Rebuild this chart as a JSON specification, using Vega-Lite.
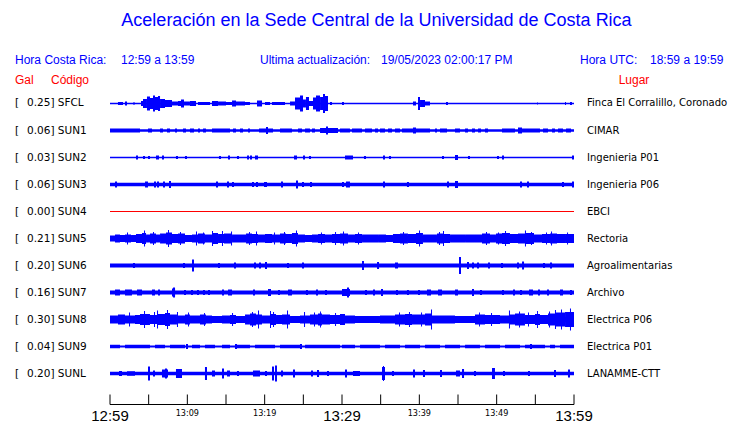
{
  "$schema": "https://vega.github.io/schema/vega-lite/v6.json",
  "width": 464,
  "height": 329,
  "padding": {"left": 110, "right": 166, "top": 76, "bottom": 18},
  "autosize": {"type": "none"},
  "background": "white",
  "config": {"view": {"stroke": null}},
  "datasets": {
    "stations": [
      {"code": "SFCL", "r": 0, "gal": 0.25, "place": "Finca El Corralillo, Coronado", "noise": 1.5},
      {"code": "SUN1", "r": 1, "gal": 0.06, "place": "CIMAR", "noise": 2.5},
      {"code": "SUN2", "r": 2, "gal": 0.03, "place": "Ingenieria P01", "noise": 1.3},
      {"code": "SUN3", "r": 3, "gal": 0.06, "place": "Ingenieria P06", "noise": 3.5},
      {"code": "SUN4", "r": 4, "gal": 0.0, "place": "EBCI", "noise": 1},
      {"code": "SUN5", "r": 5, "gal": 0.21, "place": "Rectoria", "noise": 5},
      {"code": "SUN6", "r": 6, "gal": 0.2, "place": "Agroalimentarias", "noise": 4},
      {"code": "SUN7", "r": 7, "gal": 0.16, "place": "Archivo", "noise": 4},
      {"code": "SUN8", "r": 8, "gal": 0.3, "place": "Electrica P06", "noise": 5.5},
      {"code": "SUN9", "r": 9, "gal": 0.04, "place": "Electrica P01", "noise": 2},
      {"code": "SUNL", "r": 10, "gal": 0.2, "place": "LANAMME-CTT", "noise": 3.5}
    ],
    "ticks": [
      {"t": 0, "lab": "12:59"}, {"t": 5, "lab": ""}, {"t": 10, "lab": "13:09"}, {"t": 15, "lab": ""},
      {"t": 20, "lab": "13:19"}, {"t": 25, "lab": ""}, {"t": 30, "lab": "13:29"}, {"t": 35, "lab": ""},
      {"t": 40, "lab": "13:39"}, {"t": 45, "lab": ""}, {"t": 50, "lab": "13:49"}, {"t": 55, "lab": ""},
      {"t": 60, "lab": "13:59"}
    ],
    "spikes": [
      {"s":"SFCL","t0":1.03,"t1":1.68,"h":3},{"s":"SFCL","t0":1.94,"t1":2.2,"h":4},{"s":"SFCL","t0":2.97,"t1":3.23,"h":2},
      {"s":"SFCL","t0":4.01,"t1":4.27,"h":5},{"s":"SFCL","t0":4.27,"t1":4.78,"h":9},{"s":"SFCL","t0":4.78,"t1":5.17,"h":14},
      {"s":"SFCL","t0":5.17,"t1":5.56,"h":11},{"s":"SFCL","t0":5.56,"t1":5.82,"h":16},{"s":"SFCL","t0":5.82,"t1":6.21,"h":13},
      {"s":"SFCL","t0":6.21,"t1":6.47,"h":15},{"s":"SFCL","t0":6.47,"t1":7.11,"h":9},{"s":"SFCL","t0":7.11,"t1":8.02,"h":7},
      {"s":"SFCL","t0":8.02,"t1":8.79,"h":4},{"s":"SFCL","t0":8.79,"t1":9.18,"h":5},{"s":"SFCL","t0":9.18,"t1":9.57,"h":8},
      {"s":"SFCL","t0":9.57,"t1":10.34,"h":4},{"s":"SFCL","t0":10.34,"t1":11.12,"h":5},{"s":"SFCL","t0":11.38,"t1":12.93,"h":3},
      {"s":"SFCL","t0":13.19,"t1":13.97,"h":5},{"s":"SFCL","t0":13.97,"t1":15.0,"h":4},{"s":"SFCL","t0":15.0,"t1":15.78,"h":3},
      {"s":"SFCL","t0":15.78,"t1":16.29,"h":6},{"s":"SFCL","t0":16.29,"t1":17.46,"h":4},{"s":"SFCL","t0":17.46,"t1":18.1,"h":3},
      {"s":"SFCL","t0":19.01,"t1":19.66,"h":6},{"s":"SFCL","t0":20.04,"t1":20.69,"h":3},{"s":"SFCL","t0":20.95,"t1":22.63,"h":3},
      {"s":"SFCL","t0":23.28,"t1":23.92,"h":4},{"s":"SFCL","t0":23.92,"t1":24.57,"h":12},{"s":"SFCL","t0":24.57,"t1":24.96,"h":16},
      {"s":"SFCL","t0":24.96,"t1":25.34,"h":8},{"s":"SFCL","t0":25.34,"t1":25.73,"h":13},{"s":"SFCL","t0":25.73,"t1":26.25,"h":5},
      {"s":"SFCL","t0":26.25,"t1":26.64,"h":12},{"s":"SFCL","t0":26.64,"t1":27.16,"h":16},{"s":"SFCL","t0":27.16,"t1":27.54,"h":13},
      {"s":"SFCL","t0":27.54,"t1":27.8,"h":19},{"s":"SFCL","t0":27.8,"t1":28.19,"h":15},{"s":"SFCL","t0":28.45,"t1":28.71,"h":3},
      {"s":"SFCL","t0":30.0,"t1":30.26,"h":3},{"s":"SFCL","t0":39.18,"t1":39.57,"h":4},{"s":"SFCL","t0":39.83,"t1":40.09,"h":13},
      {"s":"SFCL","t0":40.09,"t1":40.73,"h":7},{"s":"SFCL","t0":40.73,"t1":41.38,"h":4},{"s":"SFCL","t0":43.45,"t1":43.71,"h":3},
      {"s":"SFCL","t0":55.22,"t1":55.34,"h":2},{"s":"SFCL","t0":58.84,"t1":58.97,"h":3},{"s":"SFCL","t0":59.48,"t1":59.74,"h":3},

      {"s":"SUN1","t0":0,"t1":3.88,"h":4},{"s":"SUN1","t0":4.91,"t1":5.43,"h":4},{"s":"SUN1","t0":6.47,"t1":6.85,"h":4},
      {"s":"SUN1","t0":7.37,"t1":7.76,"h":4},{"s":"SUN1","t0":8.41,"t1":8.66,"h":4},{"s":"SUN1","t0":9.44,"t1":9.83,"h":4},
      {"s":"SUN1","t0":10.34,"t1":10.86,"h":4},{"s":"SUN1","t0":11.38,"t1":11.64,"h":4},{"s":"SUN1","t0":12.03,"t1":12.41,"h":4},
      {"s":"SUN1","t0":13.19,"t1":15.52,"h":4},{"s":"SUN1","t0":15.9,"t1":16.29,"h":4},{"s":"SUN1","t0":16.81,"t1":17.2,"h":4},
      {"s":"SUN1","t0":17.85,"t1":18.1,"h":4},{"s":"SUN1","t0":19.27,"t1":21.08,"h":4},{"s":"SUN1","t0":20.17,"t1":20.43,"h":7},
      {"s":"SUN1","t0":21.98,"t1":23.53,"h":4},{"s":"SUN1","t0":24.31,"t1":24.83,"h":4},{"s":"SUN1","t0":25.22,"t1":25.86,"h":4},
      {"s":"SUN1","t0":26.12,"t1":26.51,"h":4},{"s":"SUN1","t0":27.16,"t1":29.48,"h":5},{"s":"SUN1","t0":27.93,"t1":28.19,"h":8},
      {"s":"SUN1","t0":29.74,"t1":31.03,"h":4},{"s":"SUN1","t0":31.29,"t1":32.59,"h":4},{"s":"SUN1","t0":32.97,"t1":33.88,"h":4},
      {"s":"SUN1","t0":34.27,"t1":34.66,"h":4},{"s":"SUN1","t0":34.91,"t1":35.56,"h":4},{"s":"SUN1","t0":35.95,"t1":36.47,"h":4},
      {"s":"SUN1","t0":36.85,"t1":37.5,"h":4},{"s":"SUN1","t0":37.76,"t1":41.38,"h":4},{"s":"SUN1","t0":39.18,"t1":39.57,"h":6},
      {"s":"SUN1","t0":42.03,"t1":42.28,"h":4},{"s":"SUN1","t0":42.67,"t1":43.58,"h":4},{"s":"SUN1","t0":44.61,"t1":45.26,"h":4},
      {"s":"SUN1","t0":45.91,"t1":46.29,"h":4},{"s":"SUN1","t0":46.81,"t1":47.2,"h":4},{"s":"SUN1","t0":47.59,"t1":47.97,"h":4},
      {"s":"SUN1","t0":48.49,"t1":48.88,"h":4},{"s":"SUN1","t0":50.69,"t1":52.37,"h":4},{"s":"SUN1","t0":52.76,"t1":53.28,"h":6},
      {"s":"SUN1","t0":53.28,"t1":55.6,"h":4},{"s":"SUN1","t0":55.99,"t1":56.64,"h":4},{"s":"SUN1","t0":57.16,"t1":57.54,"h":4},
      {"s":"SUN1","t0":57.93,"t1":58.58,"h":4},{"s":"SUN1","t0":58.97,"t1":59.61,"h":4},

      {"s":"SUN2","t0":3.36,"t1":3.62,"h":4},{"s":"SUN2","t0":4.27,"t1":4.53,"h":3},{"s":"SUN2","t0":4.91,"t1":5.17,"h":3},
      {"s":"SUN2","t0":5.95,"t1":6.34,"h":4},{"s":"SUN2","t0":6.72,"t1":6.98,"h":4},{"s":"SUN2","t0":8.53,"t1":8.79,"h":3},
      {"s":"SUN2","t0":9.7,"t1":9.96,"h":3},{"s":"SUN2","t0":14.09,"t1":14.35,"h":3},{"s":"SUN2","t0":15.26,"t1":15.52,"h":4},
      {"s":"SUN2","t0":16.42,"t1":16.68,"h":3},{"s":"SUN2","t0":17.72,"t1":17.98,"h":4},{"s":"SUN2","t0":18.1,"t1":18.36,"h":4},
      {"s":"SUN2","t0":18.75,"t1":19.14,"h":4},{"s":"SUN2","t0":23.79,"t1":24.18,"h":4},{"s":"SUN2","t0":24.96,"t1":25.22,"h":4},
      {"s":"SUN2","t0":25.73,"t1":25.99,"h":3},{"s":"SUN2","t0":30.39,"t1":31.42,"h":4},{"s":"SUN2","t0":32.84,"t1":33.1,"h":3},
      {"s":"SUN2","t0":35.3,"t1":35.56,"h":4},{"s":"SUN2","t0":36.08,"t1":36.34,"h":3},{"s":"SUN2","t0":42.93,"t1":43.19,"h":3},
      {"s":"SUN2","t0":44.61,"t1":45.0,"h":5},{"s":"SUN2","t0":46.29,"t1":46.55,"h":3},{"s":"SUN2","t0":50.04,"t1":50.3,"h":3},
      {"s":"SUN2","t0":50.69,"t1":50.95,"h":4},{"s":"SUN2","t0":59.74,"t1":60.0,"h":4},

      {"s":"SUN3","t0":0.65,"t1":0.91,"h":6},{"s":"SUN3","t0":4.53,"t1":4.91,"h":6},{"s":"SUN3","t0":5.69,"t1":5.95,"h":6},
      {"s":"SUN3","t0":6.08,"t1":6.34,"h":6},{"s":"SUN3","t0":6.85,"t1":7.11,"h":6},{"s":"SUN3","t0":7.63,"t1":7.89,"h":7},
      {"s":"SUN3","t0":13.71,"t1":13.97,"h":6},{"s":"SUN3","t0":15.13,"t1":15.39,"h":6},{"s":"SUN3","t0":15.78,"t1":16.03,"h":5},
      {"s":"SUN3","t0":18.36,"t1":18.62,"h":5},{"s":"SUN3","t0":18.88,"t1":19.14,"h":5},{"s":"SUN3","t0":19.91,"t1":20.3,"h":5},
      {"s":"SUN3","t0":22.11,"t1":22.37,"h":6},{"s":"SUN3","t0":24.05,"t1":24.31,"h":8},{"s":"SUN3","t0":24.83,"t1":25.09,"h":5},
      {"s":"SUN3","t0":25.86,"t1":26.12,"h":5},{"s":"SUN3","t0":30.0,"t1":30.26,"h":5},{"s":"SUN3","t0":30.52,"t1":31.03,"h":6},
      {"s":"SUN3","t0":35.3,"t1":35.56,"h":6},{"s":"SUN3","t0":38.4,"t1":38.66,"h":5},{"s":"SUN3","t0":43.58,"t1":43.84,"h":6},
      {"s":"SUN3","t0":44.61,"t1":45.0,"h":7},{"s":"SUN3","t0":53.02,"t1":53.28,"h":6},{"s":"SUN3","t0":53.92,"t1":54.18,"h":6},
      {"s":"SUN3","t0":58.45,"t1":58.71,"h":5},{"s":"SUN3","t0":59.74,"t1":60.0,"h":6},

      {"s":"SUN5","t0":0,"t1":0.65,"h":6},{"s":"SUN5","t0":0.65,"t1":1.29,"h":8},{"s":"SUN5","t0":1.29,"t1":1.94,"h":7},
      {"s":"SUN5","t0":1.94,"t1":2.72,"h":8},{"s":"SUN5","t0":2.72,"t1":3.36,"h":7},{"s":"SUN5","t0":3.36,"t1":4.14,"h":9},
      {"s":"SUN5","t0":4.14,"t1":4.66,"h":11},{"s":"SUN5","t0":4.66,"t1":5.17,"h":8},{"s":"SUN5","t0":5.17,"t1":5.95,"h":10},
      {"s":"SUN5","t0":5.95,"t1":6.47,"h":8},{"s":"SUN5","t0":6.47,"t1":7.24,"h":10},{"s":"SUN5","t0":7.24,"t1":8.02,"h":12},
      {"s":"SUN5","t0":8.02,"t1":8.79,"h":9},{"s":"SUN5","t0":8.79,"t1":9.7,"h":10},{"s":"SUN5","t0":9.7,"t1":10.6,"h":7},
      {"s":"SUN5","t0":10.6,"t1":11.38,"h":8},{"s":"SUN5","t0":11.38,"t1":12.28,"h":10},{"s":"SUN5","t0":12.28,"t1":13.19,"h":8},
      {"s":"SUN5","t0":13.19,"t1":13.97,"h":11},{"s":"SUN5","t0":13.97,"t1":14.74,"h":9},{"s":"SUN5","t0":14.74,"t1":15.78,"h":10},
      {"s":"SUN5","t0":15.78,"t1":16.81,"h":8},{"s":"SUN5","t0":16.81,"t1":17.59,"h":8},{"s":"SUN5","t0":17.59,"t1":18.36,"h":10},
      {"s":"SUN5","t0":18.36,"t1":19.14,"h":9},{"s":"SUN5","t0":19.14,"t1":20.04,"h":8},{"s":"SUN5","t0":20.04,"t1":20.95,"h":9},
      {"s":"SUN5","t0":20.95,"t1":21.98,"h":8},{"s":"SUN5","t0":21.98,"t1":22.76,"h":10},{"s":"SUN5","t0":22.76,"t1":23.53,"h":9},
      {"s":"SUN5","t0":23.53,"t1":24.31,"h":11},{"s":"SUN5","t0":24.31,"t1":25.22,"h":8},{"s":"SUN5","t0":25.22,"t1":26.12,"h":7},
      {"s":"SUN5","t0":26.12,"t1":26.9,"h":8},{"s":"SUN5","t0":26.9,"t1":27.8,"h":9},{"s":"SUN5","t0":27.8,"t1":28.71,"h":8},
      {"s":"SUN5","t0":28.71,"t1":29.74,"h":9},{"s":"SUN5","t0":29.74,"t1":30.78,"h":10},{"s":"SUN5","t0":30.78,"t1":31.68,"h":8},
      {"s":"SUN5","t0":31.68,"t1":32.59,"h":9},{"s":"SUN5","t0":32.59,"t1":33.62,"h":8},{"s":"SUN5","t0":33.62,"t1":34.66,"h":8},
      {"s":"SUN5","t0":34.66,"t1":35.69,"h":8},{"s":"SUN5","t0":35.69,"t1":36.59,"h":7},{"s":"SUN5","t0":36.59,"t1":37.5,"h":9},
      {"s":"SUN5","t0":37.5,"t1":38.53,"h":10},{"s":"SUN5","t0":38.53,"t1":39.57,"h":9},{"s":"SUN5","t0":39.57,"t1":40.47,"h":11},
      {"s":"SUN5","t0":40.47,"t1":41.38,"h":8},{"s":"SUN5","t0":41.38,"t1":42.28,"h":8},{"s":"SUN5","t0":42.28,"t1":43.06,"h":10},
      {"s":"SUN5","t0":43.06,"t1":43.97,"h":9},{"s":"SUN5","t0":43.97,"t1":45.0,"h":8},{"s":"SUN5","t0":45.0,"t1":46.03,"h":8},
      {"s":"SUN5","t0":46.03,"t1":47.07,"h":8},{"s":"SUN5","t0":47.07,"t1":48.1,"h":8},{"s":"SUN5","t0":48.1,"t1":49.14,"h":10},
      {"s":"SUN5","t0":49.14,"t1":49.91,"h":8},{"s":"SUN5","t0":49.91,"t1":50.69,"h":10},{"s":"SUN5","t0":50.69,"t1":51.72,"h":11},
      {"s":"SUN5","t0":51.72,"t1":52.76,"h":9},{"s":"SUN5","t0":52.76,"t1":53.79,"h":10},{"s":"SUN5","t0":53.79,"t1":54.83,"h":11},
      {"s":"SUN5","t0":54.83,"t1":55.86,"h":8},{"s":"SUN5","t0":55.86,"t1":56.9,"h":9},{"s":"SUN5","t0":56.9,"t1":57.8,"h":10},
      {"s":"SUN5","t0":57.8,"t1":58.84,"h":9},{"s":"SUN5","t0":58.84,"t1":60.0,"h":9},
      {"s":"SUN5","t0":4.4,"t1":4.53,"h":16},{"s":"SUN5","t0":7.5,"t1":7.63,"h":17},{"s":"SUN5","t0":11.12,"t1":11.25,"h":14},
      {"s":"SUN5","t0":13.19,"t1":13.32,"h":15},{"s":"SUN5","t0":14.48,"t1":14.61,"h":15},{"s":"SUN5","t0":15.65,"t1":15.78,"h":14},
      {"s":"SUN5","t0":18.88,"t1":19.01,"h":14},{"s":"SUN5","t0":24.05,"t1":24.18,"h":16},{"s":"SUN5","t0":30.13,"t1":30.26,"h":14},
      {"s":"SUN5","t0":39.96,"t1":40.09,"h":16},{"s":"SUN5","t0":43.06,"t1":43.19,"h":15},{"s":"SUN5","t0":51.08,"t1":51.21,"h":15},
      {"s":"SUN5","t0":53.66,"t1":53.79,"h":16},{"s":"SUN5","t0":57.03,"t1":57.16,"h":14},
      {"s":"SUN5","t0":2.2,"t1":2.33,"h":12},{"s":"SUN5","t0":5.56,"t1":5.69,"h":13},{"s":"SUN5","t0":9.05,"t1":9.18,"h":13},
      {"s":"SUN5","t0":12.03,"t1":12.16,"h":12},{"s":"SUN5","t0":17.98,"t1":18.1,"h":13},{"s":"SUN5","t0":21.21,"t1":21.34,"h":12},
      {"s":"SUN5","t0":22.5,"t1":22.63,"h":13},{"s":"SUN5","t0":27.28,"t1":27.41,"h":12},{"s":"SUN5","t0":29.1,"t1":29.23,"h":13},
      {"s":"SUN5","t0":32.07,"t1":32.2,"h":12},{"s":"SUN5","t0":37.89,"t1":38.02,"h":13},{"s":"SUN5","t0":42.54,"t1":42.67,"h":13},
      {"s":"SUN5","t0":48.62,"t1":48.75,"h":13},{"s":"SUN5","t0":50.17,"t1":50.3,"h":12},{"s":"SUN5","t0":54.44,"t1":54.57,"h":13},
      {"s":"SUN5","t0":56.38,"t1":56.51,"h":12},{"s":"SUN5","t0":59.1,"t1":59.23,"h":12},

      {"s":"SUN6","t0":2.97,"t1":3.23,"h":5},{"s":"SUN6","t0":9.44,"t1":9.7,"h":5},{"s":"SUN6","t0":10.6,"t1":10.86,"h":12},
      {"s":"SUN6","t0":13.97,"t1":14.22,"h":5},{"s":"SUN6","t0":16.03,"t1":16.29,"h":6},{"s":"SUN6","t0":18.62,"t1":18.88,"h":6},
      {"s":"SUN6","t0":19.27,"t1":19.53,"h":6},{"s":"SUN6","t0":20.04,"t1":20.3,"h":7},{"s":"SUN6","t0":22.89,"t1":23.15,"h":5},
      {"s":"SUN6","t0":24.83,"t1":25.09,"h":6},{"s":"SUN6","t0":32.59,"t1":32.84,"h":9},{"s":"SUN6","t0":34.53,"t1":34.79,"h":7},
      {"s":"SUN6","t0":36.85,"t1":37.24,"h":6},{"s":"SUN6","t0":45.13,"t1":45.39,"h":17},{"s":"SUN6","t0":46.16,"t1":46.42,"h":7},
      {"s":"SUN6","t0":46.81,"t1":47.07,"h":6},{"s":"SUN6","t0":47.46,"t1":47.72,"h":6},{"s":"SUN6","t0":48.88,"t1":49.14,"h":6},
      {"s":"SUN6","t0":50.56,"t1":50.82,"h":5},{"s":"SUN6","t0":52.63,"t1":52.89,"h":6},{"s":"SUN6","t0":53.28,"t1":53.54,"h":8},
      {"s":"SUN6","t0":55.99,"t1":56.25,"h":5},{"s":"SUN6","t0":56.9,"t1":57.16,"h":6},

      {"s":"SUN7","t0":0.65,"t1":1.29,"h":6},{"s":"SUN7","t0":1.94,"t1":2.84,"h":6},{"s":"SUN7","t0":3.49,"t1":4.14,"h":6},
      {"s":"SUN7","t0":5.43,"t1":5.82,"h":6},{"s":"SUN7","t0":6.21,"t1":6.47,"h":6},{"s":"SUN7","t0":8.02,"t1":8.41,"h":8},
      {"s":"SUN7","t0":8.15,"t1":8.41,"h":10},{"s":"SUN7","t0":9.57,"t1":9.83,"h":5},{"s":"SUN7","t0":10.47,"t1":10.73,"h":5},
      {"s":"SUN7","t0":11.25,"t1":11.51,"h":5},{"s":"SUN7","t0":12.03,"t1":12.28,"h":5},{"s":"SUN7","t0":12.67,"t1":12.93,"h":5},
      {"s":"SUN7","t0":14.48,"t1":14.74,"h":6},{"s":"SUN7","t0":15.26,"t1":15.78,"h":6},{"s":"SUN7","t0":18.49,"t1":18.75,"h":6},
      {"s":"SUN7","t0":20.43,"t1":20.82,"h":7},{"s":"SUN7","t0":21.72,"t1":21.98,"h":5},{"s":"SUN7","t0":23.02,"t1":23.53,"h":6},
      {"s":"SUN7","t0":25.34,"t1":25.6,"h":5},{"s":"SUN7","t0":26.64,"t1":26.9,"h":6},{"s":"SUN7","t0":27.8,"t1":28.06,"h":5},
      {"s":"SUN7","t0":30.0,"t1":31.03,"h":7},{"s":"SUN7","t0":30.65,"t1":30.91,"h":10},{"s":"SUN7","t0":32.97,"t1":33.23,"h":5},
      {"s":"SUN7","t0":34.01,"t1":34.27,"h":6},{"s":"SUN7","t0":35.04,"t1":35.3,"h":7},{"s":"SUN7","t0":36.98,"t1":37.24,"h":5},
      {"s":"SUN7","t0":38.4,"t1":38.66,"h":5},{"s":"SUN7","t0":39.83,"t1":40.09,"h":5},{"s":"SUN7","t0":40.99,"t1":41.51,"h":6},
      {"s":"SUN7","t0":42.41,"t1":42.93,"h":6},{"s":"SUN7","t0":44.61,"t1":45.0,"h":6},{"s":"SUN7","t0":46.81,"t1":47.07,"h":7},
      {"s":"SUN7","t0":47.84,"t1":48.1,"h":5},{"s":"SUN7","t0":50.69,"t1":50.95,"h":5},{"s":"SUN7","t0":52.11,"t1":52.37,"h":6},
      {"s":"SUN7","t0":53.02,"t1":53.28,"h":5},{"s":"SUN7","t0":54.18,"t1":54.7,"h":6},{"s":"SUN7","t0":55.34,"t1":55.6,"h":6},
      {"s":"SUN7","t0":56.51,"t1":56.77,"h":6},{"s":"SUN7","t0":58.19,"t1":58.58,"h":6},{"s":"SUN7","t0":59.48,"t1":59.74,"h":5},

      {"s":"SUN8","t0":0,"t1":1.03,"h":8},{"s":"SUN8","t0":1.03,"t1":1.94,"h":10},{"s":"SUN8","t0":1.94,"t1":3.23,"h":8},
      {"s":"SUN8","t0":3.23,"t1":3.88,"h":9},{"s":"SUN8","t0":3.88,"t1":5.17,"h":11},{"s":"SUN8","t0":5.17,"t1":6.21,"h":9},
      {"s":"SUN8","t0":6.21,"t1":7.11,"h":11},{"s":"SUN8","t0":7.11,"t1":7.76,"h":13},{"s":"SUN8","t0":7.76,"t1":8.66,"h":10},
      {"s":"SUN8","t0":8.66,"t1":9.7,"h":8},{"s":"SUN8","t0":9.7,"t1":10.34,"h":10},{"s":"SUN8","t0":10.34,"t1":11.64,"h":8},
      {"s":"SUN8","t0":11.64,"t1":12.41,"h":10},{"s":"SUN8","t0":12.41,"t1":13.19,"h":8},{"s":"SUN8","t0":13.19,"t1":14.48,"h":7},
      {"s":"SUN8","t0":14.48,"t1":15.52,"h":8},{"s":"SUN8","t0":15.52,"t1":16.29,"h":9},{"s":"SUN8","t0":16.29,"t1":17.46,"h":7},
      {"s":"SUN8","t0":17.46,"t1":18.1,"h":10},{"s":"SUN8","t0":18.1,"t1":18.88,"h":12},{"s":"SUN8","t0":18.88,"t1":19.66,"h":10},
      {"s":"SUN8","t0":19.66,"t1":20.69,"h":8},{"s":"SUN8","t0":20.69,"t1":21.47,"h":11},{"s":"SUN8","t0":21.47,"t1":22.24,"h":9},
      {"s":"SUN8","t0":22.24,"t1":23.28,"h":10},{"s":"SUN8","t0":23.28,"t1":24.57,"h":7},{"s":"SUN8","t0":24.57,"t1":25.22,"h":8},
      {"s":"SUN8","t0":25.22,"t1":25.86,"h":8},{"s":"SUN8","t0":25.86,"t1":26.9,"h":10},{"s":"SUN8","t0":26.9,"t1":27.41,"h":12},
      {"s":"SUN8","t0":27.41,"t1":28.45,"h":10},{"s":"SUN8","t0":28.45,"t1":29.74,"h":9},{"s":"SUN8","t0":29.74,"t1":30.39,"h":11},
      {"s":"SUN8","t0":30.39,"t1":31.68,"h":8},{"s":"SUN8","t0":31.68,"t1":33.62,"h":7},{"s":"SUN8","t0":33.62,"t1":34.91,"h":7},
      {"s":"SUN8","t0":34.91,"t1":36.85,"h":8},{"s":"SUN8","t0":36.85,"t1":38.15,"h":10},{"s":"SUN8","t0":38.15,"t1":39.05,"h":11},
      {"s":"SUN8","t0":39.05,"t1":40.73,"h":10},{"s":"SUN8","t0":40.73,"t1":41.64,"h":12},{"s":"SUN8","t0":41.64,"t1":42.67,"h":8},
      {"s":"SUN8","t0":42.67,"t1":44.61,"h":8},{"s":"SUN8","t0":44.61,"t1":47.2,"h":7},{"s":"SUN8","t0":47.2,"t1":48.49,"h":10},
      {"s":"SUN8","t0":48.49,"t1":50.43,"h":9},{"s":"SUN8","t0":50.43,"t1":51.72,"h":8},{"s":"SUN8","t0":51.72,"t1":52.37,"h":10},
      {"s":"SUN8","t0":52.37,"t1":53.66,"h":12},{"s":"SUN8","t0":53.66,"t1":54.96,"h":9},{"s":"SUN8","t0":54.96,"t1":55.6,"h":11},
      {"s":"SUN8","t0":55.6,"t1":56.64,"h":9},{"s":"SUN8","t0":56.64,"t1":57.54,"h":12},{"s":"SUN8","t0":57.54,"t1":58.84,"h":14},
      {"s":"SUN8","t0":58.84,"t1":60.0,"h":15},
      {"s":"SUN8","t0":4.4,"t1":4.53,"h":17},{"s":"SUN8","t0":6.08,"t1":6.21,"h":18},{"s":"SUN8","t0":7.37,"t1":7.5,"h":19},
      {"s":"SUN8","t0":19.14,"t1":19.27,"h":18},{"s":"SUN8","t0":20.69,"t1":20.82,"h":17},{"s":"SUN8","t0":22.89,"t1":23.02,"h":18},
      {"s":"SUN8","t0":25.09,"t1":25.22,"h":15},{"s":"SUN8","t0":41.51,"t1":41.64,"h":20},{"s":"SUN8","t0":51.59,"t1":51.72,"h":18},
      {"s":"SUN8","t0":55.22,"t1":55.34,"h":17},{"s":"SUN8","t0":56.77,"t1":56.9,"h":16},{"s":"SUN8","t0":57.54,"t1":57.67,"h":19},
      {"s":"SUN8","t0":58.32,"t1":58.45,"h":20},{"s":"SUN8","t0":59.48,"t1":59.61,"h":22},
      {"s":"SUN8","t0":2.46,"t1":2.59,"h":14},{"s":"SUN8","t0":5.69,"t1":5.82,"h":15},{"s":"SUN8","t0":8.66,"t1":8.79,"h":15},
      {"s":"SUN8","t0":10.09,"t1":10.22,"h":14},{"s":"SUN8","t0":12.16,"t1":12.28,"h":13},{"s":"SUN8","t0":15.78,"t1":15.91,"h":13},
      {"s":"SUN8","t0":18.36,"t1":18.49,"h":15},{"s":"SUN8","t0":21.08,"t1":21.21,"h":15},{"s":"SUN8","t0":26.38,"t1":26.51,"h":14},
      {"s":"SUN8","t0":27.16,"t1":27.28,"h":16},{"s":"SUN8","t0":29.1,"t1":29.23,"h":13},{"s":"SUN8","t0":37.37,"t1":37.5,"h":14},
      {"s":"SUN8","t0":38.66,"t1":38.79,"h":15},{"s":"SUN8","t0":40.22,"t1":40.35,"h":14},{"s":"SUN8","t0":47.72,"t1":47.84,"h":14},
      {"s":"SUN8","t0":49.27,"t1":49.4,"h":13},{"s":"SUN8","t0":52.89,"t1":53.02,"h":16},{"s":"SUN8","t0":54.05,"t1":54.18,"h":14},

      {"s":"SUN9","t0":0,"t1":1.29,"h":3.5},{"s":"SUN9","t0":1.94,"t1":5.17,"h":3.5},{"s":"SUN9","t0":5.82,"t1":7.11,"h":3.5},
      {"s":"SUN9","t0":7.76,"t1":9.7,"h":3.5},{"s":"SUN9","t0":10.6,"t1":11.64,"h":3.5},{"s":"SUN9","t0":12.28,"t1":13.58,"h":3.5},
      {"s":"SUN9","t0":14.48,"t1":15.52,"h":3.5},{"s":"SUN9","t0":16.16,"t1":18.1,"h":3.5},{"s":"SUN9","t0":18.75,"t1":21.34,"h":3.5},
      {"s":"SUN9","t0":21.98,"t1":24.57,"h":3.5},{"s":"SUN9","t0":25.22,"t1":29.74,"h":3.5},{"s":"SUN9","t0":30.0,"t1":31.68,"h":3.5},
      {"s":"SUN9","t0":32.33,"t1":34.91,"h":3.5},{"s":"SUN9","t0":35.56,"t1":37.5,"h":3.5},{"s":"SUN9","t0":38.15,"t1":40.09,"h":3.5},
      {"s":"SUN9","t0":40.73,"t1":42.67,"h":3.5},{"s":"SUN9","t0":43.32,"t1":45.26,"h":3.5},{"s":"SUN9","t0":45.91,"t1":47.84,"h":3.5},
      {"s":"SUN9","t0":48.49,"t1":50.43,"h":3.5},{"s":"SUN9","t0":51.08,"t1":53.02,"h":3.5},{"s":"SUN9","t0":53.66,"t1":56.25,"h":3.5},
      {"s":"SUN9","t0":56.9,"t1":57.54,"h":3.5},{"s":"SUN9","t0":58.19,"t1":60.0,"h":3.5},
      {"s":"SUN9","t0":9.83,"t1":10.09,"h":5},{"s":"SUN9","t0":16.16,"t1":16.42,"h":5},{"s":"SUN9","t0":24.57,"t1":24.83,"h":5},
      {"s":"SUN9","t0":54.31,"t1":54.57,"h":5},

      {"s":"SUNL","t0":1.16,"t1":1.55,"h":5},{"s":"SUNL","t0":2.2,"t1":3.23,"h":4.5},{"s":"SUNL","t0":4.91,"t1":5.17,"h":14},
      {"s":"SUNL","t0":5.56,"t1":5.82,"h":6},{"s":"SUNL","t0":6.72,"t1":7.5,"h":8},{"s":"SUNL","t0":7.11,"t1":7.37,"h":10},
      {"s":"SUNL","t0":8.53,"t1":9.31,"h":9},{"s":"SUNL","t0":12.28,"t1":12.54,"h":13},{"s":"SUNL","t0":13.19,"t1":13.58,"h":6},
      {"s":"SUNL","t0":14.48,"t1":14.74,"h":10},{"s":"SUNL","t0":15.13,"t1":15.52,"h":6},{"s":"SUNL","t0":16.42,"t1":16.68,"h":5},
      {"s":"SUNL","t0":18.49,"t1":19.4,"h":6},{"s":"SUNL","t0":20.04,"t1":20.3,"h":5},{"s":"SUNL","t0":20.95,"t1":21.21,"h":14},
      {"s":"SUNL","t0":21.34,"t1":21.59,"h":16},{"s":"SUNL","t0":22.11,"t1":22.37,"h":6},{"s":"SUNL","t0":23.66,"t1":23.92,"h":8},
      {"s":"SUNL","t0":25.99,"t1":26.25,"h":6},{"s":"SUNL","t0":26.77,"t1":27.03,"h":7},{"s":"SUNL","t0":28.06,"t1":28.32,"h":5},
      {"s":"SUNL","t0":30.39,"t1":30.65,"h":8},{"s":"SUNL","t0":31.42,"t1":32.33,"h":5},{"s":"SUNL","t0":35.17,"t1":35.56,"h":13},
      {"s":"SUNL","t0":35.3,"t1":35.43,"h":15},{"s":"SUNL","t0":36.47,"t1":36.72,"h":5},{"s":"SUNL","t0":39.18,"t1":39.44,"h":8},
      {"s":"SUNL","t0":40.47,"t1":40.73,"h":7},{"s":"SUNL","t0":42.67,"t1":42.93,"h":7},{"s":"SUNL","t0":44.74,"t1":45.26,"h":6},
      {"s":"SUNL","t0":45.52,"t1":45.78,"h":9},{"s":"SUNL","t0":47.07,"t1":47.33,"h":5},{"s":"SUNL","t0":49.4,"t1":49.78,"h":11},
      {"s":"SUNL","t0":50.82,"t1":51.08,"h":5},{"s":"SUNL","t0":54.05,"t1":54.31,"h":5},{"s":"SUNL","t0":57.41,"t1":57.67,"h":7},
      {"s":"SUNL","t0":59.22,"t1":59.48,"h":8}
    ]
  },
  "layer": [
    {
      "data": {"name": "stations"},
      "mark": {"type": "rule"},
      "encoding": {
        "x": {"datum": 0, "type": "quantitative", "scale": {"domain": [0, 60], "nice": false, "zero": false, "padding": 0}, "axis": null},
        "x2": {"datum": 60},
        "y": {"field": "r", "type": "quantitative", "scale": {"domain": [-1.0185, 11.1665], "reverse": true, "nice": false, "zero": false, "padding": 0}, "axis": null},
        "strokeWidth": {"field": "noise", "type": "quantitative", "scale": {"domain": [0, 27], "range": [0, 27]}, "legend": null},
        "color": {"condition": {"test": "datum.code == 'SUN4'", "value": "#ff0000"}, "value": "#0000ff"}
      }
    },
    {
      "data": {"name": "spikes"},
      "transform": [{"lookup": "s", "from": {"data": {"name": "stations"}, "key": "code", "fields": ["r"]}}],
      "mark": {"type": "bar", "orient": "horizontal", "color": "#0000ff"},
      "encoding": {
        "x": {"field": "t0", "type": "quantitative", "axis": null},
        "x2": {"field": "t1"},
        "y": {"field": "r", "type": "quantitative", "axis": null},
        "size": {"field": "h", "type": "quantitative", "scale": {"domain": [0, 27], "range": [0, 27]}, "legend": null}
      }
    },
    {
      "data": {"values": [{}]},
      "mark": {"type": "rule", "color": "black", "strokeWidth": 1},
      "encoding": {
        "x": {"datum": 0, "type": "quantitative", "axis": null},
        "x2": {"datum": 60},
        "y": {"datum": 11.148, "type": "quantitative", "axis": null}
      }
    },
    {
      "data": {"name": "ticks"},
      "mark": {"type": "rule", "color": "black", "strokeWidth": 1},
      "encoding": {
        "x": {"field": "t", "type": "quantitative", "axis": null},
        "y": {"datum": 11.148, "type": "quantitative", "axis": null},
        "y2": {"datum": 10.778}
      }
    },
    {
      "data": {"name": "ticks"},
      "transform": [{"filter": "datum.t % 30 == 0"}],
      "mark": {"type": "text", "align": "center", "baseline": "top", "font": "Liberation Sans", "fontSize": 15, "color": "black"},
      "encoding": {
        "x": {"field": "t", "type": "quantitative", "axis": null},
        "y": {"datum": 11.3, "type": "quantitative", "axis": null},
        "text": {"field": "lab"}
      }
    },
    {
      "data": {"name": "ticks"},
      "transform": [{"filter": "datum.t % 30 != 0"}],
      "mark": {"type": "text", "align": "center", "baseline": "top", "font": "DejaVu Sans Condensed, DejaVu Sans", "fontSize": 9, "color": "black"},
      "encoding": {
        "x": {"field": "t", "type": "quantitative", "axis": null},
        "y": {"datum": 11.33, "type": "quantitative", "axis": null},
        "text": {"field": "lab"}
      }
    },
    {
      "data": {"name": "stations"},
      "mark": {"type": "text", "align": "left", "baseline": "middle", "font": "DejaVu Sans", "fontSize": 10.5, "color": "black"},
      "encoding": {
        "x": {"datum": -12.28, "type": "quantitative", "axis": null},
        "y": {"field": "r", "type": "quantitative", "axis": null},
        "text": {"value": "["}
      }
    },
    {
      "data": {"name": "stations"},
      "transform": [{"calculate": "format(datum.gal, '.2f') + '] ' + datum.code", "as": "lab"}],
      "mark": {"type": "text", "align": "left", "baseline": "middle", "font": "DejaVu Sans", "fontSize": 10.5, "color": "black"},
      "encoding": {
        "x": {"datum": -10.73, "type": "quantitative", "axis": null},
        "y": {"field": "r", "type": "quantitative", "axis": null},
        "text": {"field": "lab"}
      }
    },
    {
      "data": {"name": "stations"},
      "mark": {"type": "text", "align": "left", "baseline": "middle", "font": "DejaVu Sans", "fontSize": 10, "color": "black"},
      "encoding": {
        "x": {"datum": 61.68, "type": "quantitative", "axis": null},
        "y": {"field": "r", "type": "quantitative", "axis": null},
        "text": {"field": "place"}
      }
    },
    {
      "data": {"values": [{}]},
      "mark": {"type": "text", "align": "center", "baseline": "middle", "font": "Liberation Sans", "fontSize": 18, "color": "#0000ff"},
      "encoding": {"x": {"datum": 34.46, "type": "quantitative", "axis": null}, "y": {"datum": -3.037, "type": "quantitative", "axis": null},
                   "text": {"value": "Aceleración en la Sede Central de la Universidad de Costa Rica"}}
    },
    {
      "data": {"values": [{}]},
      "mark": {"type": "text", "align": "left", "baseline": "middle", "font": "Liberation Sans", "fontSize": 12, "color": "#0000ff"},
      "encoding": {"x": {"datum": -12.28, "type": "quantitative", "axis": null}, "y": {"datum": -1.593, "type": "quantitative", "axis": null},
                   "text": {"value": "Hora Costa Rica:"}}
    },
    {
      "data": {"values": [{}]},
      "mark": {"type": "text", "align": "left", "baseline": "middle", "font": "Liberation Sans", "fontSize": 12, "color": "#0000ff"},
      "encoding": {"x": {"datum": 1.42, "type": "quantitative", "axis": null}, "y": {"datum": -1.593, "type": "quantitative", "axis": null},
                   "text": {"value": "12:59 a 13:59"}}
    },
    {
      "data": {"values": [{}]},
      "mark": {"type": "text", "align": "left", "baseline": "middle", "font": "Liberation Sans", "fontSize": 12, "color": "#0000ff"},
      "encoding": {"x": {"datum": 19.4, "type": "quantitative", "axis": null}, "y": {"datum": -1.593, "type": "quantitative", "axis": null},
                   "text": {"value": "Ultima actualización:"}}
    },
    {
      "data": {"values": [{}]},
      "mark": {"type": "text", "align": "left", "baseline": "middle", "font": "Liberation Sans", "fontSize": 12, "color": "#0000ff"},
      "encoding": {"x": {"datum": 35.04, "type": "quantitative", "axis": null}, "y": {"datum": -1.593, "type": "quantitative", "axis": null},
                   "text": {"value": "19/05/2023 02:00:17 PM"}}
    },
    {
      "data": {"values": [{}]},
      "mark": {"type": "text", "align": "left", "baseline": "middle", "font": "Liberation Sans", "fontSize": 12, "color": "#0000ff"},
      "encoding": {"x": {"datum": 60.78, "type": "quantitative", "axis": null}, "y": {"datum": -1.593, "type": "quantitative", "axis": null},
                   "text": {"value": "Hora UTC:"}}
    },
    {
      "data": {"values": [{}]},
      "mark": {"type": "text", "align": "left", "baseline": "middle", "font": "Liberation Sans", "fontSize": 12, "color": "#0000ff"},
      "encoding": {"x": {"datum": 69.83, "type": "quantitative", "axis": null}, "y": {"datum": -1.593, "type": "quantitative", "axis": null},
                   "text": {"value": "18:59 a 19:59"}}
    },
    {
      "data": {"values": [{}]},
      "mark": {"type": "text", "align": "left", "baseline": "middle", "font": "Liberation Sans", "fontSize": 12, "color": "#ff0000"},
      "encoding": {"x": {"datum": -12.28, "type": "quantitative", "axis": null}, "y": {"datum": -0.852, "type": "quantitative", "axis": null},
                   "text": {"value": "Gal"}}
    },
    {
      "data": {"values": [{}]},
      "mark": {"type": "text", "align": "left", "baseline": "middle", "font": "Liberation Sans", "fontSize": 12, "color": "#ff0000"},
      "encoding": {"x": {"datum": -7.63, "type": "quantitative", "axis": null}, "y": {"datum": -0.852, "type": "quantitative", "axis": null},
                   "text": {"value": "Código"}}
    },
    {
      "data": {"values": [{}]},
      "mark": {"type": "text", "align": "center", "baseline": "middle", "font": "Liberation Sans", "fontSize": 12, "color": "#ff0000"},
      "encoding": {"x": {"datum": 67.76, "type": "quantitative", "axis": null}, "y": {"datum": -0.852, "type": "quantitative", "axis": null},
                   "text": {"value": "Lugar"}}
    }
  ]
}
